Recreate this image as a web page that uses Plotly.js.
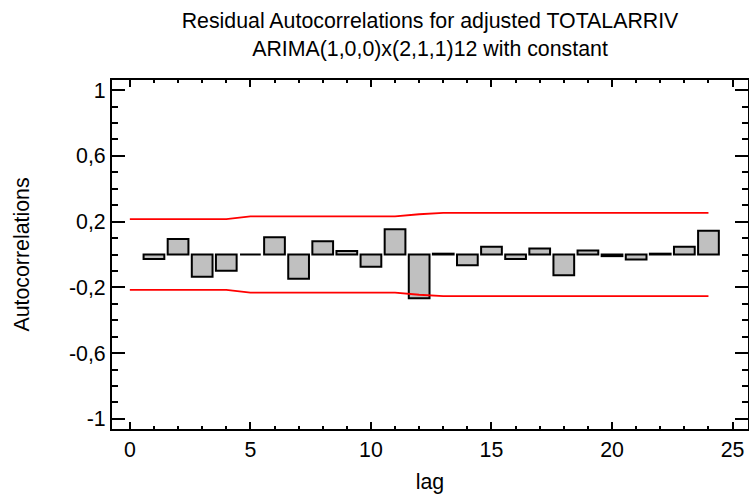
<!DOCTYPE html>
<html>
<head>
<meta charset="utf-8">
<script src="https://cdn.plot.ly/plotly-3.0.1.min.js"></script>
<style>html,body{margin:0;padding:0;background:#fff;}#chart{width:749px;height:496px;}</style>
</head>
<body>
<div id="chart"></div>
<script>
const lags = [1,2,3,4,5,6,7,8,9,10,11,12,13,14,15,16,17,18,19,20,21,22,23,24];
const acf = [-0.028,0.095,-0.136,-0.099,0.0,0.105,-0.148,0.081,0.022,-0.075,0.154,-0.266,0.005,-0.065,0.047,-0.028,0.037,-0.126,0.024,-0.01,-0.03,0.005,0.047,0.144];
const limitLags = [0,1,2,3,4,5,6,7,8,9,10,11,12,13,14,15,16,17,18,19,20,21,22,23,24];
const upperLimit = [0.215,0.215,0.215,0.215,0.215,0.232,0.232,0.232,0.232,0.232,0.232,0.232,0.245,0.253,0.253,0.253,0.253,0.253,0.253,0.253,0.253,0.253,0.253,0.253,0.253];
const lowerLimit = upperLimit.map(v => -v);
const yTickVals = [1,0.6,0.2,-0.2,-0.6,-1];
const yTickText = ['1','0,6','0,2','-0,2','-0,6','-1'];
const xTickVals = [0,5,10,15,20,25];

const font = {family:'"Liberation Sans", Arial, sans-serif', size:21.33, color:'#000'};

const traces = [
  {type:'bar', x:lags, y:acf, width:0.86, marker:{color:'#c0c0c0', line:{color:'#000', width:2}}, hoverinfo:'x+y'},
  {type:'scatter', mode:'lines', x:limitLags, y:upperLimit, line:{color:'#ff0000', width:1.8}},
  {type:'scatter', mode:'lines', x:limitLags, y:lowerLimit, line:{color:'#ff0000', width:1.8}}
];

const layout = {
  width:749, height:496,
  margin:{l:112, r:1, t:80, b:67},
  paper_bgcolor:'#fff', plot_bgcolor:'#fff',
  showlegend:false,
  font:font,
  title:{text:'Residual Autocorrelations for adjusted TOTALARRIV<br>ARIMA(1,0,0)x(2,1,1)12 with constant', x:0.5741, xref:'container', xanchor:'center', yref:'container', y:0.943, yanchor:'top', font:font},
  xaxis:{
    range:[-0.74,25.64], showgrid:false, zeroline:false,
    showline:true, linecolor:'#000', linewidth:2, mirror:'allticks',
    ticks:'inside', ticklen:7, tickwidth:2, tickcolor:'#000',
    tickvals:xTickVals, ticktext:xTickVals.map(String),
    minor:{dtick:1, tick0:0, ticks:'inside', ticklen:3, tickwidth:2, tickcolor:'#000', showgrid:false},
    title:{text:'lag', font:font, standoff:13},
    tickfont:font
  },
  yaxis:{
    range:[-1.062,1.062], showgrid:false, zeroline:false,
    showline:true, linecolor:'#000', linewidth:2, mirror:'allticks',
    ticks:'inside', ticklen:13, tickwidth:2, tickcolor:'#000',
    tickvals:yTickVals, ticktext:yTickText,
    minor:{dtick:0.1, tick0:0, ticks:'inside', ticklen:6, tickwidth:2, tickcolor:'#000', showgrid:false},
    title:{text:'Autocorrelations', font:font, standoff:34},
    tickfont:font
  }
};

Plotly.newPlot('chart', traces, layout, {displayModeBar:false, staticPlot:true});
</script>
</body>
</html>
